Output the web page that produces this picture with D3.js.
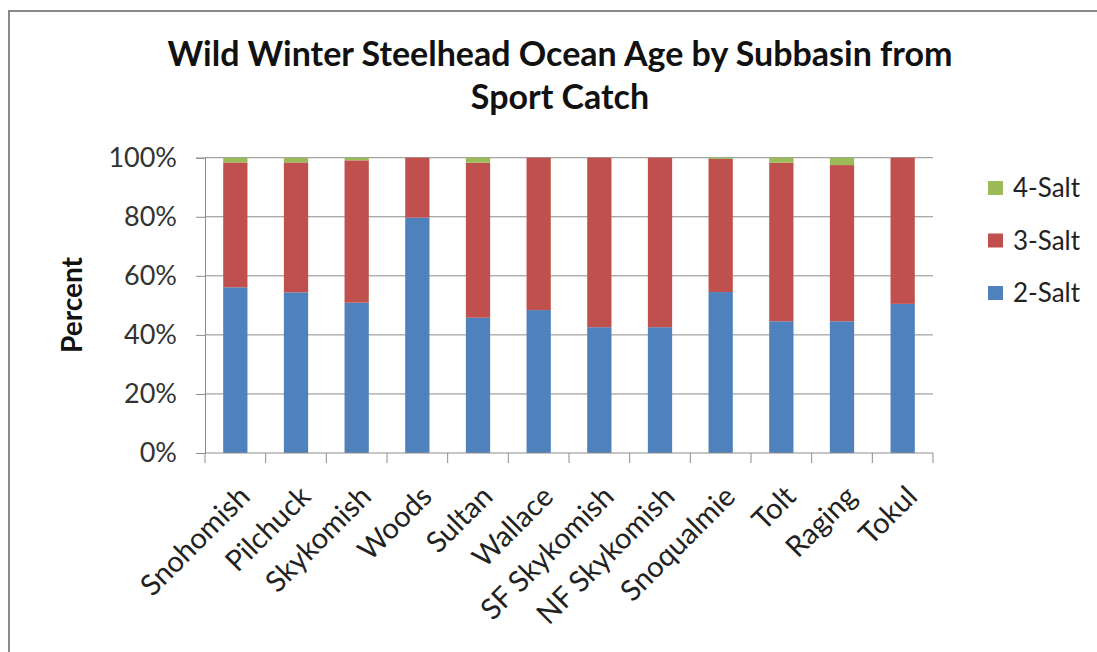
<!DOCTYPE html>
<html>
<head>
<meta charset="utf-8">
<script src="https://cdn.jsdelivr.net/npm/d3@7"></script>
<style>
  body { margin: 0; background: #fff; }
  svg { display: block; }
</style>
</head>
<body>
<div id="chart"></div>
<script>
// chart data (percent of sport catch)
const subbasins = ['Snohomish', 'Pilchuck', 'Skykomish', 'Woods', 'Sultan', 'Wallace',
    'SF Skykomish', 'NF Skykomish', 'Snoqualmie', 'Tolt', 'Raging', 'Tokul'];
const salt2 = [56.1, 54.4, 50.9, 79.7, 45.8, 48.4, 42.6, 42.6, 54.5, 44.6, 44.6, 50.5];
const salt4 = [1.6, 1.6, 0.9, 0, 1.7, 0, 0, 0, 0.4, 1.7, 2.5, 0];
const salt3 = salt2.map((v, i) => 100 - v - salt4[i]);
const seriesNames = ['2-Salt', '3-Salt', '4-Salt'];
const yTicks = [0, 20, 40, 60, 80, 100];

const colors = { '2-Salt': '#4F81BD', '3-Salt': '#C0504D', '4-Salt': '#9BBB59' };
const font = 'Lato, "Open Sans", sans-serif';

let width = 1097;
let height = 652;
let plot = { left: 205, right: 933, top: 157.7, bottom: 453 };

let table = subbasins.map((name, i) => ({
    name: name, '2-Salt': salt2[i], '3-Salt': salt3[i], '4-Salt': salt4[i]
}));
let stacked = d3.stack().keys(seriesNames)(table);

let x = d3.scaleBand()
    .domain(subbasins)
    .range([plot.left, plot.right])
    .paddingInner(0.6)
    .paddingOuter(0.3);

let y = d3.scaleLinear()
    .domain([0, 100])
    .range([plot.bottom, plot.top]);

const svg = d3.select('#chart').append('svg')
    .attr('width', width)
    .attr('height', height);

// outer frame
svg.append('rect')
    .attr('x', 9).attr('y', 11)
    .attr('width', 1100).attr('height', 660)
    .attr('fill', '#fff')
    .attr('stroke', '#8a8a8a')
    .attr('stroke-width', 2);

// title
const title = svg.append('text')
    .attr('text-anchor', 'middle')
    .style('font-family', font)
    .style('font-weight', 'bold')
    .style('font-size', '34px')
    .attr('fill', '#111');
title.append('tspan').attr('x', 560).attr('y', 66).text('Wild Winter Steelhead Ocean Age by Subbasin from');
title.append('tspan').attr('x', 560).attr('y', 109).text('Sport Catch');

// gridlines
svg.append('g')
    .selectAll('line')
    .data(yTicks.filter(t => t > 0))
    .join('line')
    .attr('x1', plot.left).attr('x2', plot.right)
    .attr('y1', d => y(d)).attr('y2', d => y(d))
    .attr('stroke', '#8c8c8c')
    .attr('stroke-width', 1);

// bars
svg.append('g')
    .selectAll('g')
    .data(stacked)
    .join('g')
    .attr('fill', d => colors[d.key])
    .selectAll('rect')
    .data(d => d)
    .join('rect')
    .attr('x', d => x(d.data.name))
    .attr('width', x.bandwidth())
    .attr('y', d => y(d[1]))
    .attr('height', d => y(d[0]) - y(d[1]));

// y axis
const yAxis = svg.append('g')
    .attr('transform', 'translate(' + plot.left + ',0)')
    .call(d3.axisLeft(y).tickValues(yTicks).tickFormat(d => d + '%').tickSize(9).tickPadding(19));
yAxis.select('.domain').attr('stroke', '#8c8c8c');
yAxis.selectAll('.tick line').attr('stroke', '#8c8c8c');
yAxis.selectAll('text')
    .style('font-family', font)
    .style('font-size', '27px')
    .attr('fill', '#333');

// x axis (ticks between categories, like the original)
const xBounds = subbasins.map((s, i) => plot.left + i * (plot.right - plot.left) / subbasins.length)
    .concat([plot.right]);
const xg = svg.append('g');
xg.append('line')
    .attr('x1', plot.left).attr('x2', plot.right)
    .attr('y1', plot.bottom).attr('y2', plot.bottom)
    .attr('stroke', '#8c8c8c');
xg.selectAll('line.tk')
    .data(xBounds)
    .join('line')
    .attr('class', 'tk')
    .attr('x1', d => d).attr('x2', d => d)
    .attr('y1', plot.bottom).attr('y2', plot.bottom + 10)
    .attr('stroke', '#8c8c8c');
xg.selectAll('text')
    .data(subbasins)
    .join('text')
    .attr('transform', d => 'translate(' + (x(d) + x.bandwidth() / 2 + 2) + ',' + (plot.bottom + 31) + ') rotate(-45)')
    .attr('text-anchor', 'end')
    .attr('dy', '0.7em')
    .style('font-family', font)
    .style('font-size', '29px')
    .attr('fill', '#222')
    .text(d => d);

// y axis title
svg.append('text')
    .attr('transform', 'translate(72,305) rotate(-90)')
    .attr('text-anchor', 'middle')
    .attr('dy', '0.35em')
    .style('font-family', font)
    .style('font-weight', 'bold')
    .style('font-size', '28px')
    .attr('fill', '#111')
    .text('Percent');

// legend
const legend = svg.append('g')
    .selectAll('g')
    .data(seriesNames.slice().reverse())
    .join('g')
    .attr('transform', (d, i) => 'translate(988,' + (188 + i * 52.5) + ')');
legend.append('rect')
    .attr('x', 0).attr('y', -7)
    .attr('width', 15).attr('height', 14)
    .attr('fill', d => colors[d]);
legend.append('text')
    .attr('x', 25)
    .attr('dy', '0.36em')
    .style('font-family', font)
    .style('font-size', '26px')
    .attr('fill', '#222')
    .text(d => d);
</script>
</body>
</html>
